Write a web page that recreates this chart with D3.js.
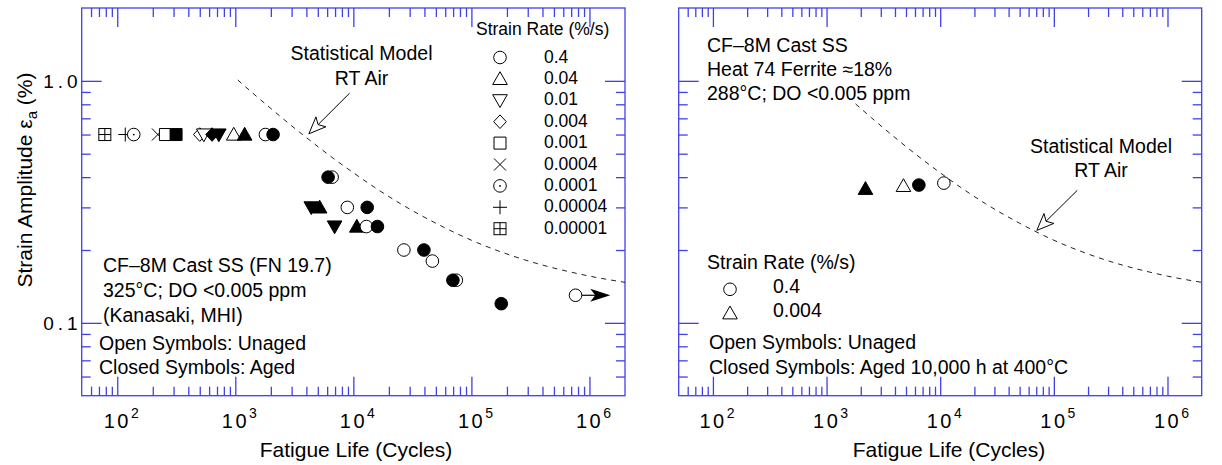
<!DOCTYPE html>
<html><head><meta charset="utf-8">
<script src="https://cdn.jsdelivr.net/npm/d3@7"></script>
<style>
html,body{margin:0;padding:0;background:#fff;}
svg text{font-family:"Liberation Sans",Arial,Helvetica,sans-serif;fill:#000;}
</style></head>
<body><svg id="chart" width="1222" height="465"></svg>
<script>
// ---------------- data ----------------
const xDomain = [50, 2e6];
const yDomain = [0.05, 2];
const xMajorTicks = [1e2, 1e3, 1e4, 1e5, 1e6];
const xTickExponents = ["2", "3", "4", "5", "6"];
const yMajorTicks = [1.0, 0.1];
const yTickLabels = ["1.0", "0.1"];

// left panel: Kanasaki, MHI (draw order matters for overlaps)
const leftLife   = [78.5, 117, 138, 221, 256, 315, 500, 541, 636, 725, 970, 1200, 1800, 2090,
                    6610, 6110,
                    4400, 5180, 8890, 13100,
                    6940, 10700, 12900, 16000,
                    26800, 39600, 46700, 74500, 69700, 179000, 762000];
const leftStrain = [0.6, 0.6, 0.6, 0.6, 0.6, 0.6, 0.6, 0.6, 0.6, 0.6, 0.6, 0.6, 0.6, 0.6,
                    0.4, 0.4,
                    0.3, 0.3, 0.3, 0.3,
                    0.25, 0.25, 0.25, 0.25,
                    0.2, 0.2, 0.18, 0.15, 0.15, 0.12, 0.13];
const leftSymbol = ["boxplus","plus","dotcircle","cross","square","square","diamond","down","diamond","down","triangle","triangle","circle","circle",
                    "circle","circle",
                    "down","triangle","circle","circle",
                    "down","triangle","circle","circle",
                    "circle","circle","circle","circle","circle","circle","circle"];
const leftAged   = [false,false,false,false,false,true,false,false,true,true,false,true,false,true,
                    false,true,
                    true,true,false,true,
                    true,true,false,true,
                    false,true,false,false,true,true,false];
const leftRunout = {life: 762000, strain: 0.13, to: 1.5e6};

// right panel: Heat 74
const rightLife   = [2200, 4750, 10770, 6490];
const rightStrain = [0.358, 0.368, 0.378, 0.371];
const rightSymbol = ["triangle","triangle","circle","circle"];
const rightAged   = [true, false, false, true];

// statistical model curve (RT air)
const modelLife   = [1050, 1500, 2000, 3000, 4000, 6000, 10000, 15000, 25000, 50000, 100000, 200000, 400000, 700000, 1000000, 2000000];
const modelStrain = [1.008, 0.866, 0.769, 0.652, 0.583, 0.500, 0.417, 0.364, 0.311, 0.258, 0.2195, 0.1925, 0.1733, 0.162, 0.156, 0.147];
const modelLifeRight   = [1800, 2500, 4000, 6000, 10000, 15000, 25000, 50000, 100000, 200000, 400000, 700000, 1000000, 2000000];
const modelStrainRight = [0.803, 0.702, 0.583, 0.500, 0.417, 0.364, 0.311, 0.258, 0.2195, 0.1925, 0.1733, 0.162, 0.156, 0.147];

const legendRates   = ["0.4","0.04","0.01","0.004","0.001","0.0004","0.0001","0.00004","0.00001"];
const legendSymbols = ["circle","triangle","down","diamond","square","cross","dotcircle","plus","boxplus"];
const rightLegendRates   = ["0.4","0.004"];
const rightLegendSymbols = ["circle","triangle"];

// ---------------- drawing ----------------
const svg = d3.select("#chart");
const AXIS = "#4040e8";
const yTopPx = 8, yBottomPx = 395.7;

function symbolPath(type) {
  const p = d3.path();
  switch (type) {
    case "triangle": p.moveTo(0,-7.2); p.lineTo(7.3,5.6); p.lineTo(-7.3,5.6); p.closePath(); break;
    case "down": p.moveTo(0,7.2); p.lineTo(7.3,-5.6); p.lineTo(-7.3,-5.6); p.closePath(); break;
    case "diamond": p.moveTo(0,-6.8); p.lineTo(6.3,0); p.lineTo(0,6.8); p.lineTo(-6.3,0); p.closePath(); break;
    case "square": p.rect(-6,-6,12,12); break;
    case "circle": case "dotcircle": p.arc(0,0,6.3,0,2*Math.PI); p.closePath(); break;
    default: break;
  }
  return p.toString();
}
function drawSymbol(g, type, filled, cx, cy) {
  const s = g.append("g").attr("transform", `translate(${cx},${cy})`);
  if (type === "cross") {
    s.append("path").attr("d","M-6,-6L6,6M-6,6L6,-6").attr("stroke","#000").attr("stroke-width",1).attr("fill","none");
    return;
  }
  if (type === "plus") {
    s.append("path").attr("d","M-7,0L7,0M0,-7L0,7").attr("stroke","#000").attr("stroke-width",1).attr("fill","none");
    return;
  }
  if (type === "boxplus") {
    s.append("rect").attr("x",-6).attr("y",-6).attr("width",12).attr("height",12).attr("fill","#fff").attr("stroke","#000");
    s.append("path").attr("d","M-6,0L6,0M0,-6L0,6").attr("stroke","#000").attr("fill","none");
    return;
  }
  s.append("path").attr("d", symbolPath(type))
    .attr("fill", filled ? "#000" : "#fff").attr("stroke", "#000").attr("stroke-width", 1);
  if (type === "dotcircle") s.append("circle").attr("r",0.9).attr("fill","#000");
}

function drawPanel(x0, x1, showYLabels, titleX) {
  const x = d3.scaleLog().domain(xDomain).range([x0, x1]);
  const y = d3.scaleLog().domain(yDomain).range([yBottomPx, yTopPx]);
  const g = svg.append("g");
  const xMinor = x.ticks().filter(v => !xMajorTicks.includes(v) && v > xDomain[0] && v < xDomain[1]);
  const yMinor = y.ticks().filter(v => !yMajorTicks.some(m => Math.abs(m - v) < 1e-9) && v > yDomain[0] * 1.001 && v < yDomain[1] * 0.999);

  const styleAxis = sel => { sel.selectAll("line").attr("stroke", AXIS).attr("stroke-width", 1.3); sel.select(".domain").remove(); sel.selectAll("text").remove(); };

  g.append("g").attr("transform", `translate(0,${yBottomPx})`).call(d3.axisBottom(x).tickValues(xMajorTicks).tickSize(-19).tickFormat("")).call(styleAxis);
  g.append("g").attr("transform", `translate(0,${yBottomPx})`).call(d3.axisBottom(x).tickValues(xMinor).tickSize(-9).tickFormat("")).call(styleAxis);
  g.append("g").attr("transform", `translate(0,${yTopPx})`).call(d3.axisTop(x).tickValues(xMajorTicks).tickSize(-19).tickFormat("")).call(styleAxis);
  g.append("g").attr("transform", `translate(0,${yTopPx})`).call(d3.axisTop(x).tickValues(xMinor).tickSize(-9).tickFormat("")).call(styleAxis);
  g.append("g").attr("transform", `translate(${x0},0)`).call(d3.axisLeft(y).tickValues(yMajorTicks).tickSize(-20).tickFormat("")).call(styleAxis);
  g.append("g").attr("transform", `translate(${x0},0)`).call(d3.axisLeft(y).tickValues(yMinor).tickSize(-9).tickFormat("")).call(styleAxis);
  g.append("g").attr("transform", `translate(${x1},0)`).call(d3.axisRight(y).tickValues(yMajorTicks).tickSize(-20).tickFormat("")).call(styleAxis);
  g.append("g").attr("transform", `translate(${x1},0)`).call(d3.axisRight(y).tickValues(yMinor).tickSize(-9).tickFormat("")).call(styleAxis);

  g.append("rect").attr("x", x0).attr("y", yTopPx).attr("width", x1 - x0).attr("height", yBottomPx - yTopPx)
    .attr("fill", "none").attr("stroke", AXIS).attr("stroke-width", 1.3);

  xMajorTicks.forEach((v, i) => {
    const t = g.append("text").attr("x", x(v) + 4).attr("y", 428).attr("text-anchor", "middle").attr("font-size", 20);
    t.append("tspan").attr("letter-spacing", "2.5px").text("10");
    t.append("tspan").attr("font-size", 14).attr("dy", -10).text(xTickExponents[i]);
  });
  if (showYLabels) {
    yMajorTicks.forEach((v, i) => {
      g.append("text").attr("x", x0).attr("y", y(v) + 7).attr("text-anchor", "end")
        .attr("font-size", 19).attr("letter-spacing", "4px").text(yTickLabels[i]);
    });
  }
  g.append("text").attr("x", titleX).attr("y", 457).attr("text-anchor", "middle").attr("font-size", 21).text("Fatigue Life (Cycles)");
  return {x, y, g};
}

function dashedModel(p, lifeArr, strainArr) {
  const line = d3.line().x((d, i) => p.x(lifeArr[i])).y((d, i) => p.y(strainArr[i])).curve(d3.curveMonotoneX);
  p.g.append("path").attr("d", line(lifeArr)).attr("fill", "none").attr("stroke", "#222")
    .attr("stroke-width", 1).attr("stroke-dasharray", "5,5");
}
function openArrow(g, xa, ya, xb, yb) {
  const ang = Math.atan2(yb - ya, xb - xa);
  const len = 17, W = 7;
  const bx = xb - len * Math.cos(ang), by = yb - len * Math.sin(ang);
  const nx = -Math.sin(ang), ny = Math.cos(ang);
  const nb = [xb - (len - 4) * Math.cos(ang), yb - (len - 4) * Math.sin(ang)];
  g.append("line").attr("x1", xa).attr("y1", ya).attr("x2", nb[0]).attr("y2", nb[1]).attr("stroke", "#000").attr("stroke-width", 1);
  g.append("path").attr("d", `M${xb},${yb}L${bx + W * nx},${by + W * ny}L${nb[0]},${nb[1]}L${bx - W * nx},${by - W * ny}Z`)
    .attr("fill", "#fff").attr("stroke", "#000").attr("stroke-width", 1);
}
function txt(g, x, y, s, size, anchor) {
  return g.append("text").attr("x", x).attr("y", y).attr("font-size", size).attr("text-anchor", anchor || "start").text(s);
}

// ---- left panel ----
const PL = drawPanel(81.7, 625, true, 356);
dashedModel(PL, modelLife, modelStrain);
openArrow(PL.g, PL.x(9290), PL.y(0.889), PL.x(4200), PL.y(0.604));
txt(PL.g, 361.5, 60, "Statistical Model", 19.5, "middle");
txt(PL.g, 361.5, 85, "RT Air", 19.5, "middle");

{
  const xa = PL.x(leftRunout.life) + 6.3, ya = PL.y(leftRunout.strain), xt = PL.x(leftRunout.to);
  PL.g.append("line").attr("x1", xa).attr("y1", ya).attr("x2", xt - 14).attr("y2", ya).attr("stroke", "#000").attr("stroke-width", 1.2);
  PL.g.append("path").attr("d", `M${xt},${ya}L${xt - 20},${ya - 6.5}L${xt - 15},${ya}L${xt - 20},${ya + 6.5}Z`).attr("fill", "#000");
}
leftLife.forEach((n, i) => drawSymbol(PL.g, leftSymbol[i], leftAged[i], PL.x(n), PL.y(leftStrain[i])));

txt(PL.g, 476, 35, "Strain Rate (%/s)", 17.5);
legendRates.forEach((r, i) => {
  drawSymbol(PL.g, legendSymbols[i], false, 500, 57.5 + i * 21.4);
  txt(PL.g, 544, 62.5 + i * 21.4, r, 17.5);
});
txt(PL.g, 103, 272, "CF\u20138M Cast SS (FN 19.7)", 19.5);
txt(PL.g, 103, 297, "325\u00b0C; DO <0.005 ppm", 19.5);
txt(PL.g, 103, 322, "(Kanasaki, MHI)", 19.5);
txt(PL.g, 99, 350, "Open Symbols: Unaged", 19.5);
txt(PL.g, 99, 374, "Closed Symbols: Aged", 19.5);

{
  const t = svg.append("text").attr("transform", "translate(32,180) rotate(-90)").attr("text-anchor", "middle").attr("font-size", 21);
  t.append("tspan").text("Strain Amplitude \u03b5");
  t.append("tspan").attr("font-size", 15).attr("dy", 5).text("a");
  t.append("tspan").attr("dy", -5).text(" (%)");
}

// ---- right panel ----
const PR = drawPanel(678.7, 1201.7, false, 949);
dashedModel(PR, modelLifeRight, modelStrainRight);
openArrow(PR.g, PR.x(160700), PR.y(0.3527), PR.x(70800), PR.y(0.241));
txt(PR.g, 1101, 152.7, "Statistical Model", 19.5, "middle");
txt(PR.g, 1101, 176.7, "RT Air", 19.5, "middle");
rightLife.forEach((n, i) => drawSymbol(PR.g, rightSymbol[i], rightAged[i], PR.x(n), PR.y(rightStrain[i])));

txt(PR.g, 707, 51.5, "CF\u20138M Cast SS", 19.5);
txt(PR.g, 707, 75.5, "Heat 74 Ferrite \u224818%", 19.5);
txt(PR.g, 707, 99.5, "288\u00b0C; DO <0.005 ppm", 19.5);
txt(PR.g, 707, 269.3, "Strain Rate (%/s)", 19.5);
rightLegendRates.forEach((r, i) => {
  drawSymbol(PR.g, rightLegendSymbols[i], false, 730, 289.3 + i * 24);
  txt(PR.g, 773, 293.3 + i * 24, r, 19.5);
});
txt(PR.g, 709, 349.3, "Open Symbols: Unaged", 19.5);
txt(PR.g, 709, 374, "Closed Symbols: Aged 10,000 h at 400\u00b0C", 19.5);
</script></body></html>
